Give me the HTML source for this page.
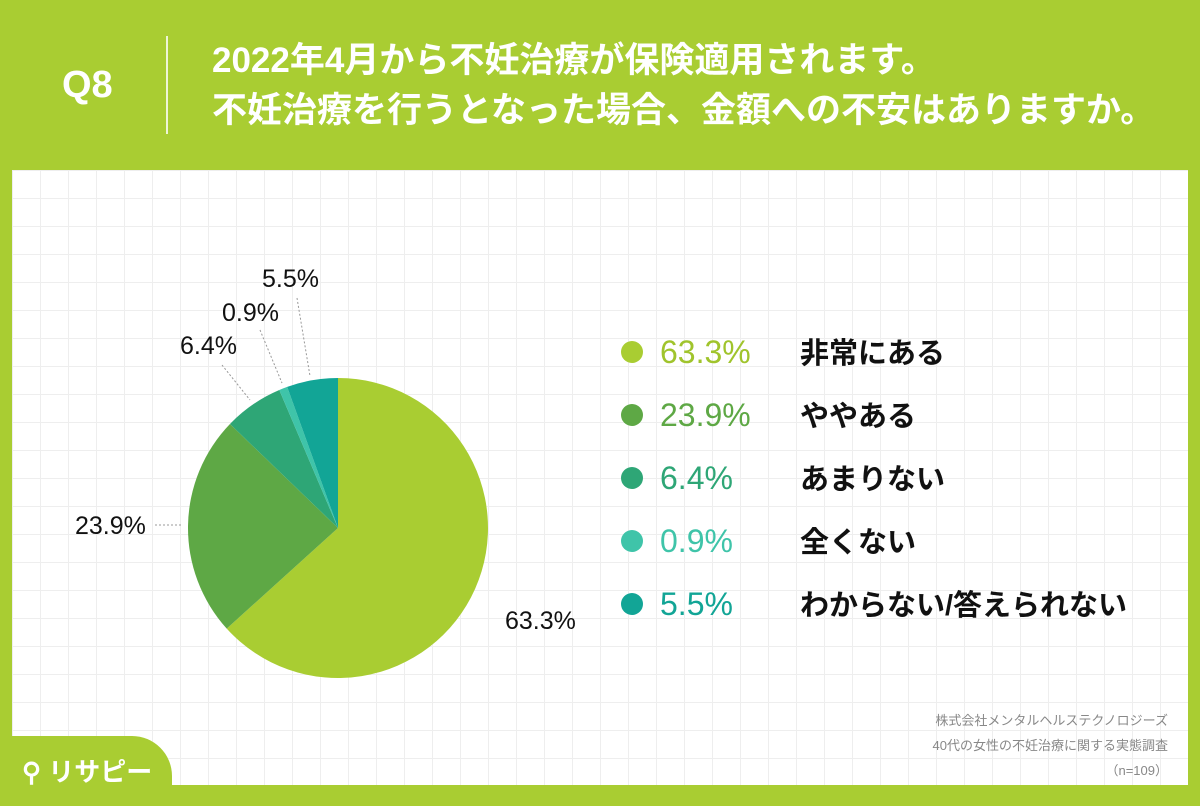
<!DOCTYPE html>
<html><head><meta charset="utf-8"><style>
body{margin:0;width:1200px;height:800px;overflow:hidden;background:#a9cd32;font-family:"Liberation Sans","Noto Sans CJK JP",sans-serif;}
#wrap{position:relative;width:1200px;height:800px;}
.panel{position:absolute;left:12px;top:170px;width:1176px;height:615px;background-color:#fff;
background-image:linear-gradient(#eeeeee 1px,transparent 1px),linear-gradient(90deg,#eeeeee 1px,transparent 1px);background-size:28px 28px;}
.t{position:absolute;white-space:nowrap;}
</style></head><body><div id="wrap">
<div class="t" style="left:62px;top:64px;color:#fff;font-size:38px;font-weight:bold;">Q8</div>
<div style="position:absolute;left:166px;top:36px;width:2px;height:98px;background:#fff;opacity:.8"></div>
<div class="t" style="left:212px;top:36px;color:#fff;font-size:35px;font-weight:bold;line-height:50px;">2022年4月から不妊治療が保険適用されます。<br>不妊治療を行うとなった場合、金額への不安はありますか。</div>
<div class="panel"></div>
<svg id="pie" width="1200" height="800" style="position:absolute;left:0;top:0"></svg>
<div style="position:absolute;left:0;top:736px;width:172px;height:70px;background:#a9cd32;border-top-right-radius:40px;"></div>
<div class="t" style="left:22px;top:752px;color:#fff;font-size:26px;font-weight:bold;">⚲ リサピー</div>
<div class="t" style="right:32px;top:708px;color:#888;font-size:13px;text-align:right;line-height:25px;">株式会社メンタルヘルステクノロジーズ<br>40代の女性の不妊治療に関する実態調査<br>（n=109）</div>
<script>
const categories=["非常にある","ややある","あまりない","全くない","わからない/答えられない"];
const values=[63.3,23.9,6.4,0.9,5.5];
const labels=["63.3%","23.9%","6.4%","0.9%","5.5%"];
const colors=["#a9cd32","#5ea845","#2ea676","#3fc4a9","#12a596"];
const svg=document.getElementById('pie');const NS="http://www.w3.org/2000/svg";
const cx=338,cy=528,r=150;const total=values.reduce((a,b)=>a+b,0);
function pt(a,rr){return [cx+rr*Math.sin(a),cy-rr*Math.cos(a)];}
let a0=0;
values.forEach((v,i)=>{const a1=a0+v/total*2*Math.PI;const p0=pt(a0,r),p1=pt(a1,r);
const p=document.createElementNS(NS,'path');
p.setAttribute('d',`M${cx},${cy}L${p0[0]},${p0[1]}A${r},${r} 0 ${a1-a0>Math.PI?1:0} 1 ${p1[0]},${p1[1]}Z`);
p.setAttribute('fill',colors[i]);


svg.appendChild(p);a0=a1;});
const lab=[[505,629],[75,534],[180,354],[222,321],[262,287]];
const lines=[null,[[155,525],[183,525]],[[222,365],[250,400]],[[260,330],[282,383]],[[297,298],[310,376]]];
labels.forEach((l,i)=>{
if(lines[i]){const ln=document.createElementNS(NS,'polyline');
ln.setAttribute('points',lines[i].map(q=>q.join(',')).join(' '));
ln.setAttribute('stroke','#999');ln.setAttribute('fill','none');ln.setAttribute('stroke-dasharray','2,2');


svg.appendChild(ln);}
const t=document.createElementNS(NS,'text');
t.setAttribute('x',lab[i][0]);t.setAttribute('y',lab[i][1]);t.setAttribute('font-size','25');t.setAttribute('fill','#111');
t.setAttribute('font-family','Liberation Sans, sans-serif');t.textContent=l;


svg.appendChild(t);
const y=352+i*63;
const c=document.createElementNS(NS,'circle');c.setAttribute('cx',632);c.setAttribute('cy',y);c.setAttribute('r',11);c.setAttribute('fill',colors[i]);


svg.appendChild(c);
const tp=document.createElementNS(NS,'text');tp.setAttribute('x',660);tp.setAttribute('y',y+11);tp.setAttribute('font-size','32');tp.setAttribute('fill',i===0?'#a0c42c':colors[i]);
tp.setAttribute('font-family','Liberation Sans, sans-serif');tp.textContent=l;


svg.appendChild(tp);
const tc=document.createElementNS(NS,'text');tc.setAttribute('x',800);tc.setAttribute('y',y+11);tc.setAttribute('font-size','29');tc.setAttribute('font-weight','bold');tc.setAttribute('fill','#111');
tc.setAttribute('font-family','Liberation Sans, Noto Sans CJK JP, sans-serif');tc.textContent=categories[i];


svg.appendChild(tc);
});
</script>
</div></body></html>
